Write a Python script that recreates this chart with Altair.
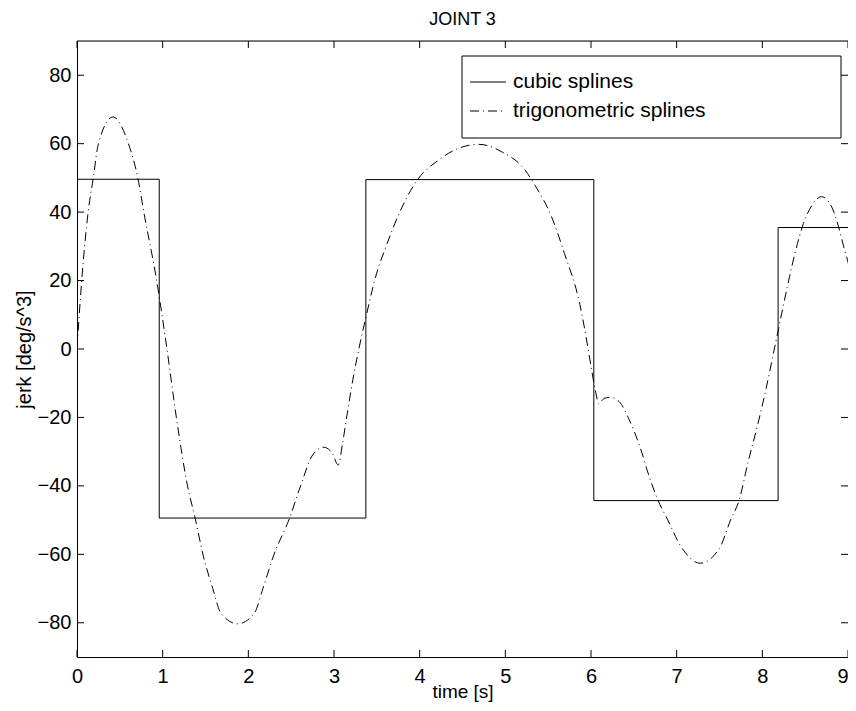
import altair as alt
import pandas as pd

# ---------------- data ----------------
STEP_TIME = [0.0, 0.96, 3.372, 6.033, 8.184, 9.058]
STEP_JERK = [49.6, -49.4, 49.5, -44.3, 35.5, 35.5]

TRIG_TIME = [0.0, 0.055, 0.13, 0.19, 0.25, 0.42, 0.60, 0.71, 0.78, 0.93, 1.05,
             1.16, 1.29, 1.38, 1.47, 1.585, 1.68, 1.876, 2.07, 2.17, 2.30, 2.48,
             2.61, 2.75, 2.88, 2.98, 3.05, 3.10, 3.16, 3.22, 3.29, 3.37, 3.485,
             3.62, 3.76, 3.97, 4.22, 4.45, 4.69, 4.96, 5.23, 5.345, 5.54, 5.69,
             5.87, 5.96, 6.00, 6.05, 6.09, 6.15, 6.22, 6.33, 6.43, 6.57, 6.68,
             6.78, 6.895, 7.05, 7.275, 7.50, 7.63, 7.73, 7.83, 7.94, 8.04, 8.14,
             8.19, 8.29, 8.41, 8.48, 8.58, 8.69, 8.81, 8.89, 8.95, 9.03, 9.058]
TRIG_JERK = [0.0, 20.0, 40.0, 50.0, 60.0, 67.8, 60.0, 50.0, 40.0, 20.0, 0.0,
             -20.0, -40.0, -49.5, -60.0, -70.0, -77.2, -80.3, -77.2, -70.0, -60.0, -49.5,
             -40.0, -31.0, -28.7, -30.5, -33.9, -27.5, -18.0, -9.0, 0.0, 9.0, 21.0,
             30.8, 39.6, 49.3, 55.2, 58.6, 59.8, 57.6, 52.3, 47.9, 38.6, 27.9,
             13.0, 1.0, -5.0, -12.0, -16.0, -14.5, -14.1, -15.4, -19.8, -28.5, -37.3,
             -44.1, -49.9, -57.7, -62.6, -58.2, -49.9, -44.1, -33.4, -22.7, -12.0, 0.0,
             6.0, 18.0, 30.8, 36.7, 42.0, 44.5, 41.5, 35.7, 29.9, 22.1, 18.0]

X_TICKS = [0, 1, 2, 3, 4, 5, 6, 7, 8, 9]
Y_TICKS = [-80, -60, -40, -20, 0, 20, 40, 60, 80]
SERIES = ["cubic splines", "trigonometric splines"]

TITLE = "JOINT 3"
X_TITLE = "time [s]"
Y_TITLE = "jerk [deg/s^3]"

# ---------------- layout / style ----------------
W, H = 771, 616
XMAX = 9.0
FONT = "Liberation Sans"
TICK_LEN = 7
DASHDOT = [9, 4, 1, 4]

step_df = pd.DataFrame({"t": STEP_TIME, "j": STEP_JERK})
trig_df = pd.DataFrame({"t": TRIG_TIME, "j": TRIG_JERK})
xt_df = pd.DataFrame({"t": X_TICKS})
yt_df = pd.DataFrame({"j": Y_TICKS})
one = pd.DataFrame({"a": [0]})

x_scale = alt.Scale(domain=[0, XMAX], nice=False, zero=False)
y_scale = alt.Scale(domain=[-90, 90], nice=False, zero=False)

x_axis = alt.Axis(values=X_TICKS, ticks=False, tickSize=0, grid=False,
                  domain=True, domainColor="black", domainWidth=1,
                  labelFont=FONT, labelFontSize=20, labelColor="black",
                  labelPadding=9, labelFlush=False,
                  labelAlign={"condition": {"test": "datum.value >= 9", "value": "right"},
                              "value": "center"},
                  title=X_TITLE, titleFont=FONT, titleFontSize=19,
                  titleFontWeight="normal", titleColor="black",
                  titleY=34, titleBaseline="middle")
y_axis = alt.Axis(values=Y_TICKS, ticks=False, tickSize=0, grid=False,
                  domain=True, domainColor="black", domainWidth=1,
                  labelFont=FONT, labelFontSize=20, labelColor="black",
                  labelPadding=6, labelFlush=False,
                  title=Y_TITLE, titleFont=FONT, titleFontSize=20,
                  titleFontWeight="normal", titleColor="black",
                  titleX=-53, titleY=H / 2, titleAngle=-90,
                  titleBaseline="middle", titleAlign="center")

X = alt.X("t:Q", scale=x_scale, axis=x_axis)
Y = alt.Y("j:Q", scale=y_scale, axis=y_axis)

cubic = alt.Chart(step_df).mark_line(
    interpolate="step-after", color="black", strokeWidth=1, clip=True
).encode(x=X, y=Y)

trig = alt.Chart(trig_df).mark_line(
    interpolate="monotone", color="black", strokeWidth=1,
    strokeDash=DASHDOT, clip=True
).encode(x=X, y=Y)

# inside ticks on all sides
xt_bottom = alt.Chart(xt_df).mark_rule(color="black", strokeWidth=1).encode(
    x=X, y=alt.value(H), y2=alt.value(H - TICK_LEN))
xt_top = alt.Chart(xt_df).mark_rule(color="black", strokeWidth=1).encode(
    x=X, y=alt.value(0), y2=alt.value(TICK_LEN))
yt_left = alt.Chart(yt_df).mark_rule(color="black", strokeWidth=1).encode(
    y=Y, x=alt.value(0), x2=alt.value(TICK_LEN))
yt_right = alt.Chart(yt_df).mark_rule(color="black", strokeWidth=1).encode(
    y=Y, x=alt.value(W - TICK_LEN), x2=alt.value(W))
top_border = alt.Chart(one).mark_rule(color="black", strokeWidth=1).encode(
    x=alt.value(0), x2=alt.value(W), y=alt.value(0))

# legend (drawn by hand, MATLAB style)
LX0, LX1, LY0, LY1 = 385, 764, 15, 97
leg_box = alt.Chart(one).mark_rect(fill="white", stroke="black", strokeWidth=1).encode(
    x=alt.value(LX0), x2=alt.value(LX1), y=alt.value(LY0), y2=alt.value(LY1))
leg_l1 = alt.Chart(one).mark_rule(color="black", strokeWidth=1).encode(
    x=alt.value(393), x2=alt.value(429), y=alt.value(41))
leg_l2 = alt.Chart(one).mark_rule(color="black", strokeWidth=1, strokeDash=DASHDOT).encode(
    x=alt.value(393), x2=alt.value(429), y=alt.value(70))
leg_t1 = alt.Chart(one).mark_text(align="left", baseline="middle", font=FONT,
                                  fontSize=21, color="black").encode(
    x=alt.value(436), y=alt.value(41), text=alt.value(SERIES[0]))
leg_t2 = alt.Chart(one).mark_text(align="left", baseline="middle", font=FONT,
                                  fontSize=21, color="black").encode(
    x=alt.value(436), y=alt.value(70), text=alt.value(SERIES[1]))

chart = alt.layer(
    cubic, trig, xt_bottom, xt_top, yt_left, yt_right, top_border,
    leg_box, leg_l1, leg_l2, leg_t1, leg_t2
).properties(
    width=W, height=H,
    title=alt.TitleParams(TITLE, font=FONT, fontSize=18, fontWeight="normal",
                          color="black", anchor="middle", offset=12),
    autosize=alt.AutoSizeParams(type="none"),
    padding={"left": 69, "top": 33, "right": 0, "bottom": 46},
).configure_view(stroke=None).configure(background="white")

chart.save("out.html", embed_options={"renderer": "svg", "actions": False})
